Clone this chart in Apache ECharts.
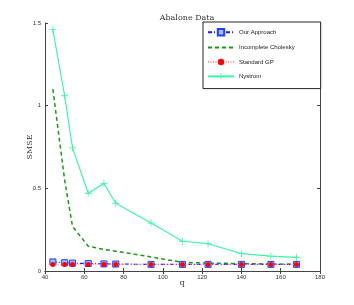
<!DOCTYPE html>
<html><head><meta charset="utf-8">
<script src="https://cdn.jsdelivr.net/npm/echarts@6/dist/echarts.min.js"></script>
<style>html,body{margin:0;padding:0;background:#fff}#c{width:354px;height:305px}</style>
</head><body><div id="c"></div>
<script>
const qValues = [44, 50, 54, 62, 70, 76, 94, 110, 123, 140, 155, 168];
const ourApproach = [0.055, 0.05, 0.048, 0.045, 0.043, 0.042, 0.04, 0.04, 0.04, 0.04, 0.04, 0.04];
const cholesky = [1.10, 0.55, 0.27, 0.15, 0.13, 0.12, 0.085, 0.052, 0.048, 0.045, 0.042, 0.04];
const standardGP = [0.04, 0.04, 0.04, 0.04, 0.04, 0.04, 0.04, 0.04, 0.04, 0.04, 0.04, 0.04];
const nystrom = [1.46, 1.06, 0.745, 0.47, 0.53, 0.41, 0.29, 0.18, 0.165, 0.105, 0.09, 0.083];
const seriesNames = ['Our Approach', 'Incomplete Cholesky', 'Standard GP', 'Nystrom'];
const yTickLabels = {0: '0', 0.5: '0.5', 1: '1', 1.5: '1.5'};
const xAxisTitle = 'q';
const yAxisTitle = 'SMSE';

const pair = arr => qValues.map((q, i) => [q, arr[i]]);
const plus = 'path://M4.4,0h1.2v4.4h4.4v1.2h-4.4v4.4h-1.2v-4.4h-4.4v-1.2h4.4z';
const axisCol = '#444';
const nameFont = {fontFamily: 'DejaVu Serif', fontSize: 8, fill: '#333'};
const chart = echarts.init(document.getElementById('c'));
chart.setOption({
  animation: false,
  backgroundColor: '#fff',
  title: {text: 'Abalone Data', left: 182, top: 9, textAlign: 'center',
    textStyle: {fontFamily: 'DejaVu Serif', fontSize: 8, fontWeight: 'normal', color: '#333'}},
  graphic: [
    {type: 'text', x: 182, y: 283, style: Object.assign({text: xAxisTitle, align: 'center', verticalAlign: 'middle'}, nameFont)},
    {type: 'text', x: 30, y: 147, rotation: Math.PI / 2, style: Object.assign({text: yAxisTitle, align: 'center', verticalAlign: 'middle'}, nameFont)}
  ],
  legend: {
    orient: 'vertical', left: 203, top: 22, itemGap: 8,
    padding: [6, 26, 9, 4],
    backgroundColor: '#fff', borderColor: '#222', borderWidth: 1,
    itemWidth: 26, itemHeight: 8,
    textStyle: {fontFamily: 'Liberation Sans', fontSize: 6, color: '#222'},
    data: [
      {name: seriesNames[0]},
      {name: seriesNames[1], itemStyle: {opacity: 0}},
      {name: seriesNames[2]},
      {name: seriesNames[3]}
    ]
  },
  grid: {left: 45, right: 34, top: 23, bottom: 34},
  xAxis: [{
    type: 'value', min: 40, max: 180, interval: 20,
    axisLine: {show: true, lineStyle: {color: axisCol}},
    axisTick: {inside: true, length: 3, lineStyle: {color: axisCol}},
    axisLabel: {fontFamily: 'Liberation Sans', fontSize: 6, color: '#333', margin: 3},
    splitLine: {show: false}
  }, {
    type: 'value', min: 40, max: 180, interval: 20, position: 'top',
    axisLine: {show: true, lineStyle: {color: axisCol}},
    axisTick: {inside: true, length: 3, lineStyle: {color: axisCol}},
    axisLabel: {show: false}, splitLine: {show: false}
  }],
  yAxis: [{
    type: 'value', min: 0, max: 1.5, interval: 0.5,
    axisLine: {show: true, lineStyle: {color: axisCol}},
    axisTick: {inside: true, length: 3, lineStyle: {color: axisCol}},
    axisLabel: {fontFamily: 'Liberation Sans', fontSize: 6, color: '#333', margin: 4,
      formatter: v => yTickLabels[v] !== undefined ? yTickLabels[v] : String(v)},
    splitLine: {show: false}
  }, {
    type: 'value', min: 0, max: 1.5, interval: 0.5, position: 'right',
    axisLine: {show: true, lineStyle: {color: axisCol}},
    axisTick: {inside: true, length: 3, lineStyle: {color: axisCol}},
    axisLabel: {show: false}, splitLine: {show: false}
  }],
  series: [
    {name: seriesNames[3], type: 'line', data: pair(nystrom), symbol: plus, symbolSize: 7,
      itemStyle: {color: '#3ff5a8'}, lineStyle: {color: '#3ff5a8', width: 1.2}, z: 2},
    {name: seriesNames[1], type: 'line', data: pair(cholesky), symbol: 'none',
      itemStyle: {color: '#1a9a1a'}, lineStyle: {color: '#1a9a1a', width: 1.5, type: [4, 3]}, z: 3},
    {name: seriesNames[0], type: 'line', data: pair(ourApproach), symbol: 'rect', symbolSize: 6,
      itemStyle: {color: '#aab8ff', borderColor: '#2040ff', borderWidth: 1},
      lineStyle: {color: '#1a1aff', width: 1.2, type: [4, 2, 1, 2]}, z: 4},
    {name: seriesNames[2], type: 'line', data: pair(standardGP), symbol: 'circle', symbolSize: 5,
      itemStyle: {color: '#ff0000'}, lineStyle: {color: '#ff9090', width: 1, type: [1, 1.5]}, z: 5}
  ]
});
</script></body></html>
